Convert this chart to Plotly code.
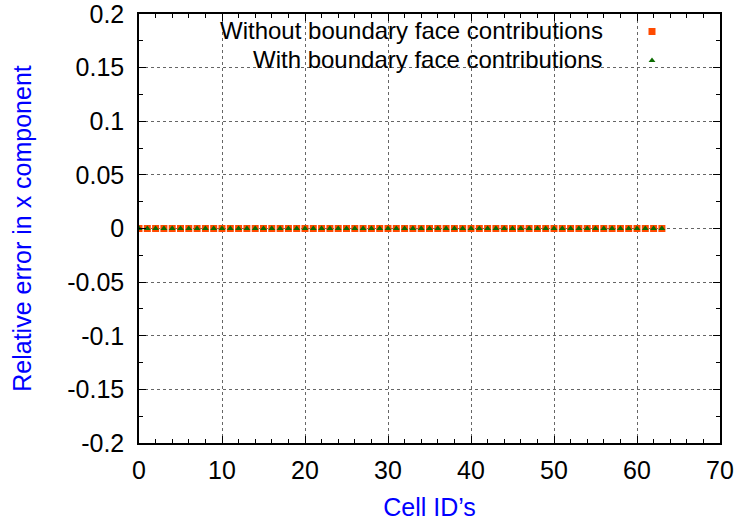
import plotly.graph_objects as go

cell_ids = list(range(0, 64))
err_without = [0.0] * 64
err_with = [0.0] * 64

name_without = "Without boundary face contributions"
name_with = "With boundary face contributions"
x_ticks = [0, 10, 20, 30, 40, 50, 60, 70]
y_ticks = [-0.2, -0.15, -0.1, -0.05, 0, 0.05, 0.1, 0.15, 0.2]
y_tick_text = ["-0.2", "-0.15", "-0.1", "-0.05", "0", "0.05", "0.1", "0.15", "0.2"]

orange = "#ff4a00"
green = "#0b6b00"
font = "Liberation Sans, Arial, sans-serif"
FS = 25
LEG_FS = 24

L, R, T, B = 139, 720, 14, 443
PW, PH = R - L, B - T

fig = go.Figure()
fig.add_trace(go.Scatter(x=cell_ids, y=err_without, mode="markers", name="",
                         marker=dict(symbol="square", size=7, color=orange, line=dict(width=0)),
                         showlegend=True))
fig.add_trace(go.Scatter(x=cell_ids, y=err_with, mode="markers", name="",
                         marker=dict(symbol="triangle-up", size=6, color=green, line=dict(width=0)),
                         showlegend=True))

fig.add_annotation(text=name_without, xref="paper", yref="paper", x=(605 - L) / PW, y=1 - (31 - T) / PH,
                   xanchor="right", yanchor="middle", showarrow=False, font=dict(family=font, size=LEG_FS, color="black"))
fig.add_annotation(text=name_with, xref="paper", yref="paper", x=(605 - L) / PW, y=1 - (59 - T) / PH,
                   xanchor="right", yanchor="middle", showarrow=False, font=dict(family=font, size=LEG_FS, color="black"))

axis_common = dict(showline=True, linecolor="black", linewidth=1.5, mirror="ticks",
                   ticks="inside", ticklen=7, tickcolor="black", tickwidth=1,
                   showgrid=True, gridcolor="#666", griddash="dot", gridwidth=1,
                   zeroline=False, automargin=False, ticklabeloverflow="allow",
                   tickfont=dict(family=font, size=FS, color="black"))

fig.update_xaxes(range=[0, 70], tickmode="array", tickvals=x_ticks,
                 minor=dict(dtick=2, ticklen=4, ticks="inside", tickcolor="black", showgrid=False),
                 title=dict(text="Cell ID’s", font=dict(family=font, size=FS, color="blue"), standoff=16),
                 ticklabelstandoff=4, **axis_common)
fig.update_yaxes(range=[-0.2, 0.2], tickmode="array", tickvals=y_ticks, ticktext=y_tick_text,
                 minor=dict(dtick=0.025, tick0=0, ticklen=4, ticks="inside", tickcolor="black", showgrid=False),
                 title=dict(text="Relative error in x component", font=dict(family=font, size=FS, color="blue"), standoff=29),
                 ticklabelstandoff=8, **axis_common)

fig.update_layout(width=738, height=524, margin=dict(l=L, r=738 - R, t=T, b=524 - B),
                  plot_bgcolor="white", paper_bgcolor="white",
                  font=dict(family=font, size=FS, color="black"),
                  legend=dict(x=(632 - L) / PW, y=1 - (12 - T) / PH, xanchor="left", yanchor="top",
                              bgcolor="rgba(0,0,0,0)", font=dict(size=20), itemwidth=30,
                              tracegroupgap=0))
fig.write_html("out.html")
